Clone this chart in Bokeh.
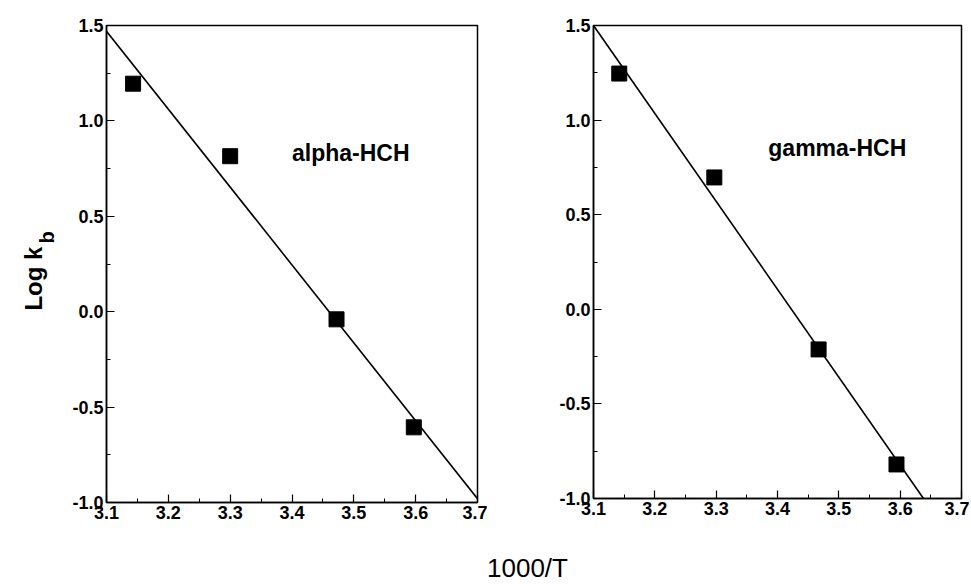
from bokeh.plotting import figure
from bokeh.layouts import row, column
from bokeh.models import FixedTicker, Label
from bokeh.embed import file_html
from bokeh.resources import INLINE
import math

# ---- data ----
x_ticks = [3.1, 3.2, 3.3, 3.4, 3.5, 3.6, 3.7]
x_tick_labels = ["3.1", "3.2", "3.3", "3.4", "3.5", "3.6", "3.7"]
x_minor = [3.15, 3.25, 3.35, 3.45, 3.55, 3.65]
y_ticks = [-1.0, -0.5, 0.0, 0.5, 1.0, 1.5]
y_tick_labels = ["-1.0", "-0.5", "0.0", "0.5", "1.0", "1.5"]
y_minor = [-0.75, -0.25, 0.25, 0.75, 1.25]

alpha_x = [3.143, 3.300, 3.472, 3.597]
alpha_y = [1.195, 0.815, -0.04, -0.606]
alpha_fit_x = [3.1, 3.7]
alpha_fit_y = [1.47, -0.98]

gamma_x = [3.142, 3.297, 3.467, 3.594]
gamma_y = [1.246, 0.697, -0.212, -0.82]
gamma_fit_x = [3.1, 3.638]
gamma_fit_y = [1.5, -1.0]

FONT = "Liberation Sans"
ROW_H = 529
LEFT_W = 60


def make_panel(px, py, fx, fy, name, name_x, name_y, left, right, fw, top, fh):
    p = figure(frame_width=fw, frame_height=fh, x_range=(3.1, 3.7), y_range=(-1.0, 1.5),
               output_backend="svg", toolbar_location=None,
               min_border_left=left, min_border_right=right, min_border_top=top,
               min_border_bottom=ROW_H - top - fh)
    p.grid.visible = False
    p.outline_line_color = "black"
    p.outline_line_width = 1.5
    p.background_fill_color = "white"
    p.border_fill_color = "white"
    p.xaxis.ticker = FixedTicker(ticks=x_ticks, minor_ticks=x_minor)
    p.yaxis.ticker = FixedTicker(ticks=y_ticks, minor_ticks=y_minor)
    p.xaxis.major_label_overrides = dict(zip(x_ticks, x_tick_labels))
    p.yaxis.major_label_overrides = dict(zip(y_ticks, y_tick_labels))
    for ax in (p.xaxis, p.yaxis):
        ax.major_tick_in = 8
        ax.major_tick_out = 0
        ax.minor_tick_in = 4
        ax.minor_tick_out = 0
        ax.axis_line_color = "black"
        ax.axis_line_width = 1.5
        ax.major_tick_line_color = "black"
        ax.minor_tick_line_color = "black"
        ax.major_tick_line_width = 1.2
        ax.major_label_text_font = FONT
        ax.major_label_text_font_size = "18px"
        ax.major_label_text_font_style = "bold"
        ax.major_label_text_color = "black"
        ax.major_label_standoff = 3
    p.line(fx, fy, line_color="black", line_width=1.6)
    p.scatter(px, py, marker="square", size=15, fill_color="black", line_color="black")
    p.add_layout(Label(x=name_x, y=name_y, text=name, text_font=FONT, text_font_size="23px",
                       text_font_style="bold", text_baseline="middle", text_align="left",
                       text_color="black"))
    return p


p1 = make_panel(alpha_x, alpha_y, alpha_fit_x, alpha_fit_y, "alpha-HCH", 3.40, 0.83,
                106 - LEFT_W, 10, 371, 22, 477)
p2 = make_panel(gamma_x, gamma_y, gamma_fit_x, gamma_fit_y, "gamma-HCH", 3.385, 0.85,
                106, 8, 368, 25, 473)

# y-axis title "Log k_b" in a narrow side panel
p0 = figure(width=LEFT_W, height=ROW_H, x_range=(0, LEFT_W), y_range=(0, ROW_H),
            output_backend="svg", toolbar_location=None,
            min_border_left=0, min_border_right=0, min_border_top=0, min_border_bottom=0)
p0.axis.visible = False
p0.grid.visible = False
p0.outline_line_color = None
p0.add_layout(Label(x=33, y=ROW_H - 283, text="Log k", angle=math.pi / 2, text_font=FONT,
                    text_font_size="24px", text_font_style="bold", text_align="center",
                    text_baseline="alphabetic", text_color="black"))
p0.add_layout(Label(x=46, y=ROW_H - 237, text="b", angle=math.pi / 2, text_font=FONT,
                    text_font_size="20px", text_font_style="bold", text_align="center",
                    text_baseline="alphabetic", text_color="black"))

# shared x-axis title
p3 = figure(width=969, height=56, x_range=(0, 969), y_range=(0, 56),
            output_backend="svg", toolbar_location=None,
            min_border_left=0, min_border_right=0, min_border_top=0, min_border_bottom=0)
p3.axis.visible = False
p3.grid.visible = False
p3.outline_line_color = None
p3.add_layout(Label(x=527, y=3, text="1000/T", text_font=FONT, text_font_size="26px",
                    text_align="center", text_baseline="bottom", text_color="black"))

layout = column(row(p0, p1, p2, spacing=0), p3, spacing=0)
open("out.html", "w").write(file_html(layout, INLINE))
